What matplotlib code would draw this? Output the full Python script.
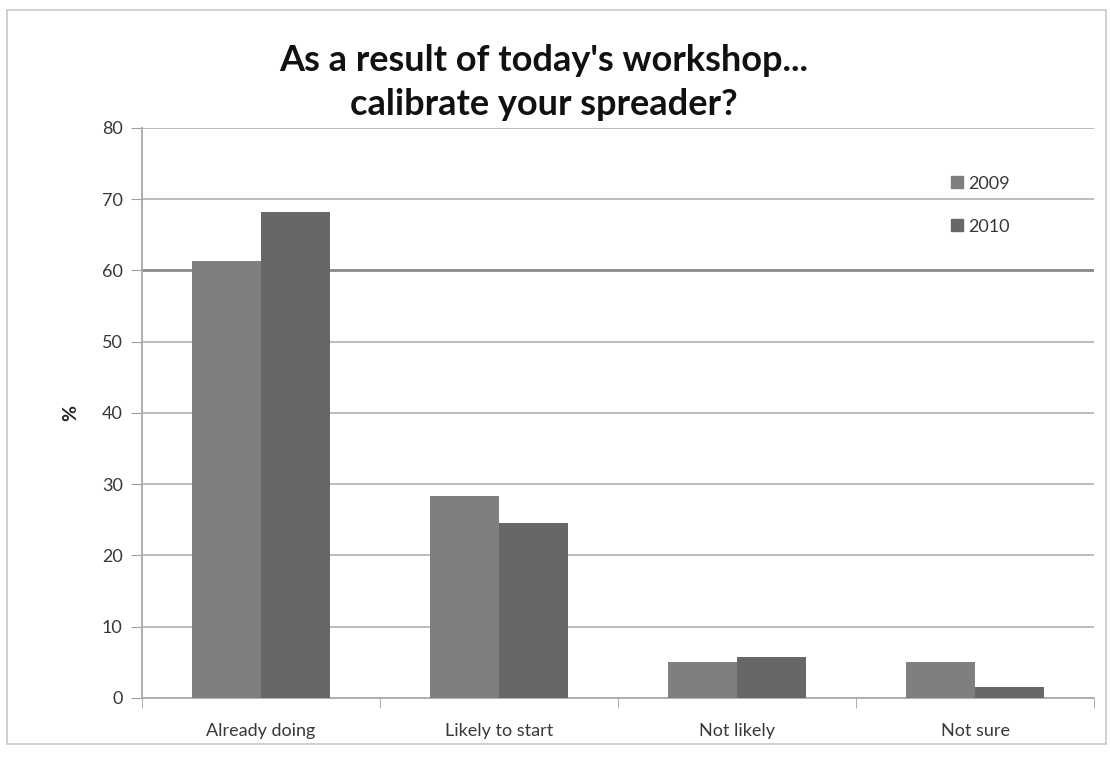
import matplotlib.pyplot as plt
import numpy as np
from matplotlib.lines import Line2D

categories = ["Already doing", "Likely to start", "Not likely", "Not sure"]
years = ["2009", "2010"]
pct_2009 = [61.4, 28.4, 5.1, 5.1]
pct_2010 = [68.2, 24.5, 5.8, 1.6]

plt.rcParams['font.family'] = ['Lato', 'DejaVu Sans']

fig = plt.figure(figsize=(11.1, 7.71), dpi=100)
# chart frame
fig.add_artist(plt.Rectangle((0.006, 0.035), 0.99, 0.952, transform=fig.transFigure,
                             fill=False, edgecolor='#c8c8c8', linewidth=1.2))

ax = fig.add_axes([0.128, 0.0947, 0.8576, 0.7393])

x = np.arange(len(categories))
w = 0.29
ax.bar(x - w / 2, pct_2009, width=w, color='#7f7f7f', label=years[0], zorder=3)
ax.bar(x + w / 2, pct_2010, width=w, color='#676767', label=years[1], zorder=3)

ax.set_xlim(-0.5, len(categories) - 0.5)
ax.set_ylim(0, 80)
ax.set_yticks(np.arange(0, 81, 10))
ax.set_xticks(x)
ax.set_xticklabels(categories, fontsize=13, color='#383838')
ax.set_xticks(np.arange(-0.5, len(categories)), minor=True)
ax.tick_params(axis='x', which='major', length=0, pad=18)
ax.tick_params(axis='x', which='minor', length=7, color='#a0a0a0', direction='out')
ax.tick_params(axis='y', length=8, color='#a0a0a0', labelsize=13, labelcolor='#383838', pad=6)

for y in range(10, 81, 10):
    lw, col = (2.0, '#8a8a8a') if y == 60 else (1.3, '#b8b8b8')
    ax.axhline(y, color=col, linewidth=lw, zorder=1)

for side in ['top', 'right']:
    ax.spines[side].set_visible(False)
for side in ['left', 'bottom']:
    ax.spines[side].set_color('#a8a8a8')
    ax.spines[side].set_linewidth(1.3)

ax.set_ylabel('%', fontsize=14, fontweight='bold', labelpad=16, color='#222222')

fig.text(0.49, 0.893, "As a result of today's workshop...\ncalibrate your spreader?",
         ha='center', va='center', fontsize=26, fontweight='bold', linespacing=1.4,
         color='#111111')

handles = [Line2D([], [], marker='s', linestyle='', color='#7f7f7f', markersize=8),
           Line2D([], [], marker='s', linestyle='', color='#676767', markersize=8)]
ax.legend(handles, years, loc='upper left', bbox_to_anchor=(0.83, 0.945), frameon=False,
          fontsize=13, handletextpad=0.1, labelspacing=1.5, handlelength=1.0,
          labelcolor='#383838')

plt.savefig('out.png', dpi=100)
